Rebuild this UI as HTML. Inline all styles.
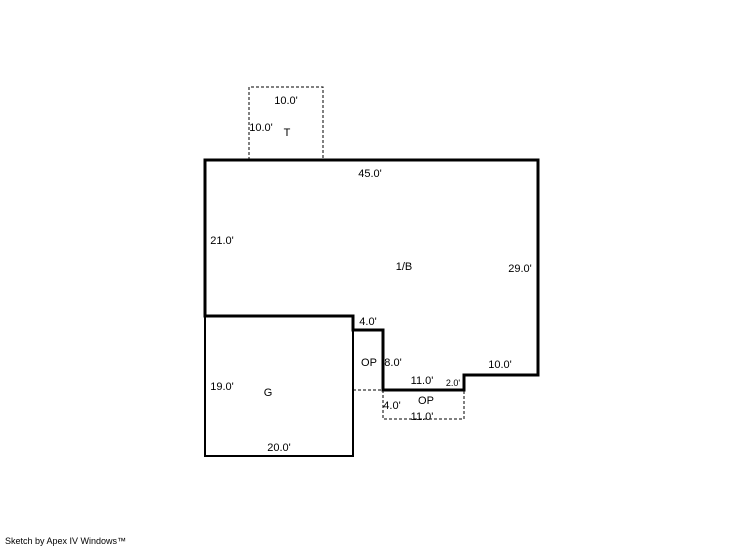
<!DOCTYPE html>
<html><head><style>
body{margin:0;background:#fff;width:746px;height:547px;overflow:hidden}
svg text{font-family:"Liberation Sans",sans-serif;font-size:11px;fill:#000;text-anchor:middle}
</style></head><body>
<svg width="746" height="547" viewBox="0 0 746 547">
<g fill="none" stroke="#000">
<path d="M249,160 V87 H323 V160" stroke-width="1" stroke-dasharray="3,2"/>
<path d="M353,390 H383 V419 H464 V390" stroke-width="1" stroke-dasharray="3,2"/>
<path d="M205,160 H538 V375 H464 V390 H383 V330 H353 V316 H205 Z" stroke-width="3"/>
<path d="M205,316 V456 H353 V316" stroke-width="2"/>
</g>
<text x="286" y="104">10.0'</text>
<text x="261" y="131">10.0'</text>
<text x="287" y="136">T</text>
<text x="370" y="177">45.0'</text>
<text x="222" y="244">21.0'</text>
<text x="404" y="270">1/B</text>
<text x="520" y="272">29.0'</text>
<text x="368" y="325">4.0'</text>
<text x="369" y="366">OP</text>
<text x="393" y="366">8.0'</text>
<text x="500" y="368">10.0'</text>
<text x="422" y="384">11.0'</text>
<text x="453" y="386" style="font-size:9px">2.0'</text>
<text x="222" y="390">19.0'</text>
<text x="268" y="396">G</text>
<text x="392" y="409">4.0'</text>
<text x="426" y="404">OP</text>
<text x="422" y="420">11.0'</text>
<text x="279" y="451">20.0'</text>
<text x="5" y="544" style="font-size:9px;text-anchor:start">Sketch by Apex IV Windows™</text>
</svg>
</body></html>
